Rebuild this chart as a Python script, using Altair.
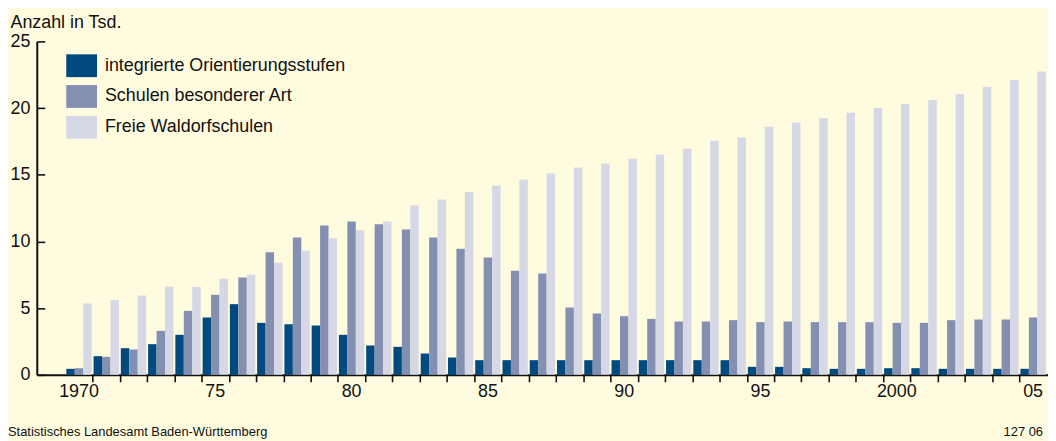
import altair as alt
import pandas as pd

years = list(range(1970, 2006))
orientierung = [0.45, 1.4, 2.0, 2.3, 3.0, 4.3, 5.3, 3.9, 3.8, 3.7, 3.0, 2.2, 2.1, 1.6, 1.3,
                1.1, 1.1, 1.1, 1.1, 1.1, 1.1, 1.1, 1.1, 1.1, 1.1, 0.6, 0.6, 0.5, 0.45, 0.45,
                0.5, 0.5, 0.45, 0.45, 0.45, 0.45]
besonderer = [0.5, 1.35, 1.9, 3.3, 4.8, 6.0, 7.3, 9.2, 10.3, 11.2, 11.5, 11.3, 10.9, 10.3, 9.45,
              8.8, 7.8, 7.6, 5.05, 4.6, 4.4, 4.2, 4.0, 4.0, 4.1, 3.95, 4.0, 3.95, 3.95, 3.95,
              3.9, 3.9, 4.1, 4.15, 4.15, 4.3]
waldorf = [5.35, 5.6, 5.95, 6.6, 6.6, 7.2, 7.5, 8.4, 9.3, 10.25, 10.85, 11.5, 12.7, 13.15, 13.7,
           14.2, 14.65, 15.1, 15.55, 15.85, 16.2, 16.5, 16.95, 17.55, 17.8, 18.6, 18.9, 19.25,
           19.65, 20.0, 20.3, 20.6, 21.05, 21.6, 22.1, 22.75]
series_names = ["integrierte Orientierungsstufen", "Schulen besonderer Art", "Freie Waldorfschulen"]
colors = ["#004A80", "#8490B2", "#D6D8E6"]
label_years = [1970, 1975, 1980, 1985, 1990, 1995, 2000, 2005]
y_ticks = [0, 5, 10, 15, 20, 25]
footer_left = "Statistisches Landesamt Baden-Württemberg"
footer_right = "127 06"

rows = []
for i, yr in enumerate(years):
    for name, vals in zip(series_names, [orientierung, besonderer, waldorf]):
        rows.append({"Jahr": yr, "Schulart": name, "Anzahl": vals[i]})
df = pd.DataFrame(rows)
helper = pd.DataFrame({"Jahr": years, "Anzahl": [0] * len(years)})

W, H = 1019, 336
FONT = "Liberation Sans"
INK = "#111111"
BG = "#FFFBDF"

x_scale = alt.Scale(paddingInner=0.07, paddingOuter=0.5825, align=0.93)
y_scale = alt.Scale(domain=[0, 25])

label_expr = ("(datum.value == 1970 || datum.value == 2000) ? datum.label : "
              "substring(datum.label, 2, 4)")

bars = alt.Chart(df).mark_bar().encode(
    x=alt.X("Jahr:O", scale=x_scale, sort=years,
            axis=alt.Axis(orient="bottom", values=label_years, ticks=False, labelExpr=label_expr,
                          labelFont=FONT, labelFontSize=18, labelColor=INK, labelPadding=8,
                          labelAngle=0, domain=True, domainWidth=2, domainColor=INK,
                          title=None, grid=False)),
    xOffset=alt.XOffset("Schulart:N", sort=series_names),
    y=alt.Y("Anzahl:Q", scale=y_scale,
            axis=alt.Axis(orient="left", values=y_ticks, ticks=False, labelPadding=7,
                          labelFont=FONT, labelFontSize=18, labelColor=INK, domain=True,
                          domainWidth=2, domainColor=INK, grid=False, title="Anzahl in Tsd.",
                          titleAngle=0, titleAlign="left", titleBaseline="alphabetic",
                          titleX=-27, titleY=-14, titleFont=FONT, titleFontSize=18,
                          titleFontWeight="normal", titleColor=INK)),
    color=alt.Color("Schulart:N", scale=alt.Scale(domain=series_names, range=colors),
                    legend=alt.Legend(title=None, orient="none", legendX=29.7, legendY=9,
                                      symbolType="M-1,-0.742H1V0.742H-1Z", symbolSize=961,
                                      symbolStrokeWidth=0, symbolOpacity=1,
                                      labelFont=FONT, labelFontSize=18, labelColor=INK,
                                      labelLimit=0, rowPadding=3, labelOffset=8, padding=0)),
)

ticks_layer = alt.Chart(helper).mark_point(opacity=0).encode(
    x=alt.X("Jahr:O", scale=x_scale, sort=years,
            axis=alt.Axis(orient="bottom", values=years[1:], bandPosition=0, tickOffset=-1,
                          labels=False, ticks=True, tickSize=7, tickWidth=1.6, tickColor=INK,
                          domain=False, title=None, grid=False)),
    y=alt.Y("Anzahl:Q", scale=y_scale,
            axis=alt.Axis(orient="right", offset=-W, values=y_ticks, labels=False,
                          ticks=True, tickSize=8, tickWidth=1.6, tickColor=INK,
                          domain=False, title=None, grid=False)),
)

foot_l = alt.Chart(pd.DataFrame({"t": [footer_left]})).mark_text(
    align="left", baseline="alphabetic", font=FONT, fontSize=13, color=INK
).encode(text="t:N", x=alt.value(-29), y=alt.value(H + 62))

foot_r = alt.Chart(pd.DataFrame({"t": [footer_right]})).mark_text(
    align="right", baseline="alphabetic", font=FONT, fontSize=13, color=INK
).encode(text="t:N", x=alt.value(W - 5), y=alt.value(H + 62))

chart = alt.layer(bars, ticks_layer, foot_l, foot_r).resolve_axis(
    x="independent", y="independent"
).properties(
    width=W, height=H,
    autosize=alt.AutoSizeParams(type="none"),
    padding={"left": 29, "top": 32, "right": 0, "bottom": 65},
    background=BG,
).configure_view(stroke=None)

chart.save("out.html", embed_options={"renderer": "svg", "actions": False})
